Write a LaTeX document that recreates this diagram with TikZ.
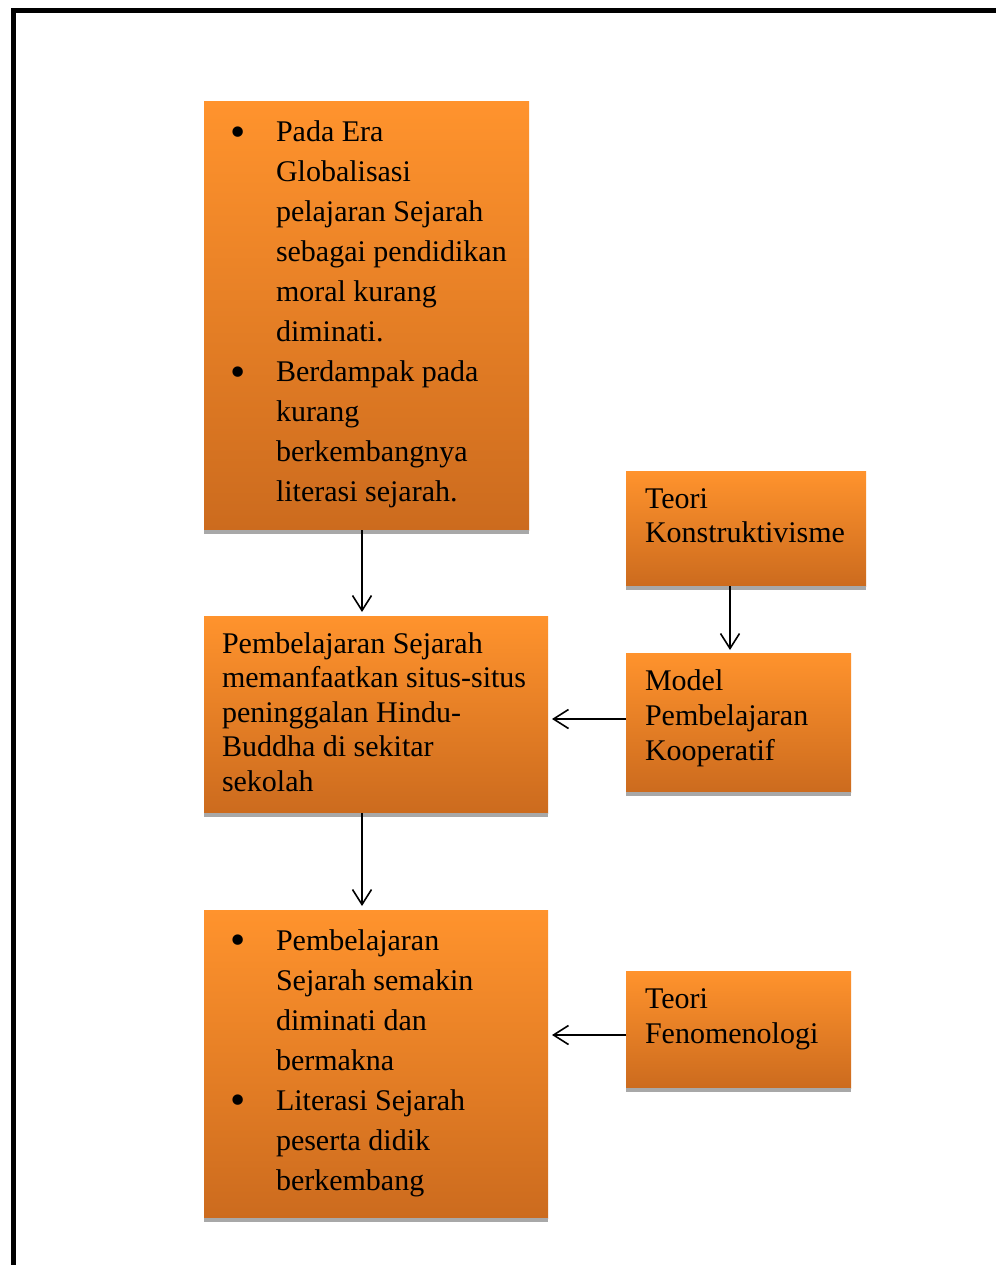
\documentclass[tikz,border=0pt]{standalone}
\usepackage{fontspec}
\setmainfont{Liberation Serif}
\usetikzlibrary{arrows.meta}
\definecolor{ortop}{RGB}{255,147,45}
\definecolor{orbot}{RGB}{204,107,30}
\definecolor{shad}{RGB}{168,168,168}
\newcommand\txtlines[2]{\vtop{\baselineskip=#1\lineskiplimit=-100pt\lineskip=0pt\halign{##\hfil\cr#2}}}
\newcommand\bullets[1]{\vtop{\baselineskip=40pt\lineskiplimit=-100pt\lineskip=0pt\halign{\hbox to 46pt{##\hfil}&##\hfil\cr#1}}}
\newcommand\bigbul{\raisebox{-4.5pt}{\scalebox{1.45}{•}}}
\tikzset{
  box/.style={rectangle, inner sep=0pt, outer sep=0pt, anchor=north west, draw=none, top color=ortop, bottom color=orbot},
  txt/.style={anchor=base west, inner sep=0pt, outer sep=0pt, font=\fontsize{30}{40}\selectfont},
  arr/.style={draw, line width=1.6pt, -{Straight Barb[length=15pt,width=19pt]}},
  frame/.style={draw, line width=5.5pt, line join=miter}
}
\begin{document}
\begin{tikzpicture}[x=1pt,y=-1pt]
\useasboundingbox (0,0) rectangle (995,1265);
\fill[white] (0,0) rectangle (995,1265);
\draw[frame] (13.5,1280) -- (13.5,10.5) -- (1010,10.5);

% boxes
\node[box,minimum width=325pt,minimum height=428pt] (top) at (204,102) {};
\node[box,minimum width=344pt,minimum height=197pt] (mid) at (204,616) {};
\node[box,minimum width=344pt,minimum height=308pt] (bot) at (204,910) {};
\node[box,minimum width=240pt,minimum height=115pt] (tk) at (626,471) {};
\node[box,minimum width=225pt,minimum height=139pt] (mk) at (626,653) {};
\node[box,minimum width=225pt,minimum height=117pt] (tf) at (626,971) {};
\foreach \n in {top,mid,bot,tk,mk,tf}
  \fill[shad] (\n.south west) rectangle ([yshift=-3.5pt]\n.south east);

% texts
\node[txt] (toptext) at (230,142) {\bullets{\bigbul&Pada Era\cr
 &Globalisasi\cr
 &pelajaran Sejarah\cr
 &sebagai pendidikan\cr
 &moral kurang\cr
 &diminati.\cr
 \bigbul&Berdampak pada\cr
 &kurang\cr
 &berkembangnya\cr
 &literasi sejarah.\cr}};
\node[txt] (midtext) at (222,653) {\txtlines{34.5pt}{Pembelajaran Sejarah\cr
 memanfaatkan situs-situs\cr
 peninggalan Hindu-\cr
 Buddha di sekitar\cr
 sekolah\cr}};
\node[txt] (bottext) at (230,950) {\bullets{\bigbul&Pembelajaran\cr
 &Sejarah semakin\cr
 &diminati dan\cr
 &bermakna\cr
 \bigbul&Literasi Sejarah\cr
 &peserta didik\cr
 &berkembang\cr}};
\node[txt] (tktext) at (645,508) {\txtlines{34pt}{Teori\cr Konstruktivisme\cr}};
\node[txt] (mktext) at (645,690) {\txtlines{35pt}{Model\cr Pembelajaran\cr Kooperatif\cr}};
\node[txt] (tftext) at (645,1008) {\txtlines{35pt}{Teori\cr Fenomenologi\cr}};

% connectors
\coordinate (a1) at ([xshift=-4.5pt]top.south);
\draw[arr, shorten >=4pt] (a1) -- (a1 |- mid.north);
\coordinate (a2) at ([xshift=-14pt]mid.south);
\draw[arr, shorten >=4pt] (a2) -- (a2 |- bot.north);
\coordinate (a3) at ([xshift=-16pt]tk.south);
\draw[arr, shorten >=3pt] (a3) -- (a3 |- mk.north);
\coordinate (a4) at ([yshift=3.5pt]mk.west);
\draw[arr, shorten >=4pt] (a4) -- (a4 -| mid.east);
\coordinate (a5) at ([yshift=-5.5pt]tf.west);
\draw[arr, shorten >=4pt] (a5) -- (a5 -| bot.east);
\end{tikzpicture}
\end{document}
